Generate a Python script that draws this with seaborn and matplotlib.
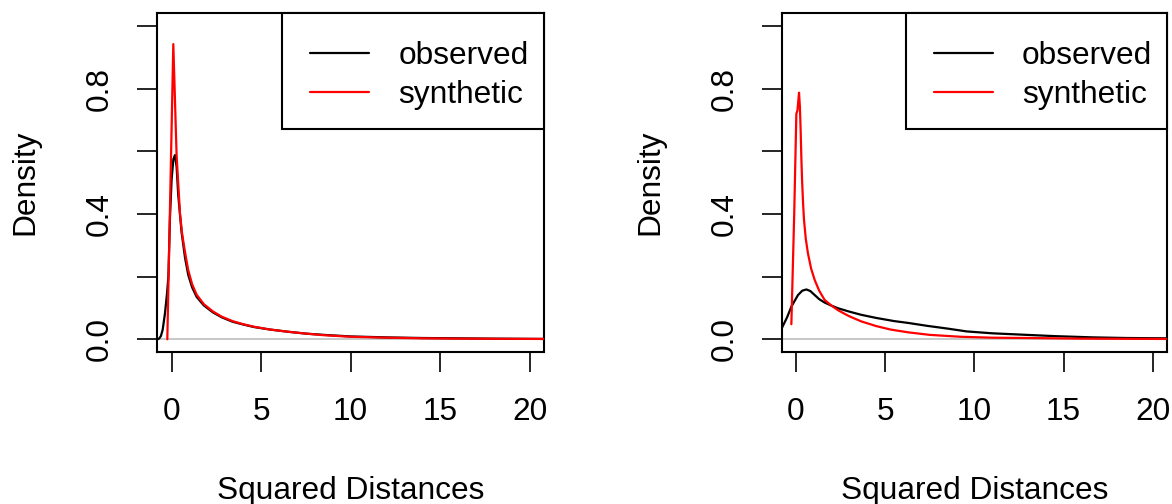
import matplotlib
matplotlib.use("Agg")
import matplotlib.pyplot as plt
from matplotlib.patches import Rectangle
import seaborn as sns
import pandas as pd

# ---------------- data ----------------
# Left panel
left_obs_x = [-0.8, -0.7, -0.6, -0.5, -0.37, -0.25, -0.18, -0.09, 0.0, 0.1, 0.19, 0.28, 0.37, 0.56, 0.75,
              0.93, 1.15, 1.4, 1.8, 2.3, 2.8, 3.4, 4.0, 4.6, 5.5, 6.5, 7.5, 8.5, 10.0,
              12.0, 14.0, 16.0, 18.0, 20.8]
left_obs_y = [0.0, 0.002, 0.01, 0.03, 0.083, 0.15, 0.2, 0.39, 0.51, 0.575, 0.588, 0.55, 0.46, 0.34, 0.26,
              0.205, 0.165, 0.135, 0.108, 0.086, 0.07, 0.056, 0.047, 0.039, 0.031, 0.024, 0.018, 0.014, 0.009,
              0.006, 0.004, 0.003, 0.002, 0.001]
left_syn_x = [-0.24, 0.095, 0.28, 0.47, 0.58, 0.7, 0.82, 0.93, 1.15, 1.4, 1.8, 2.3, 2.8, 3.4, 4.0, 4.6,
              5.5, 6.5, 7.5, 8.5, 10.0, 12.0, 14.0, 16.0, 18.0, 20.8]
left_syn_y = [0.0, 0.942, 0.585, 0.40, 0.34, 0.295, 0.255, 0.22, 0.175, 0.142, 0.112, 0.089, 0.072, 0.058, 0.048, 0.040,
              0.031, 0.024, 0.018, 0.013, 0.008, 0.005, 0.003, 0.002, 0.0015, 0.001]

# Right panel
right_obs_x = [-0.8, -0.5, -0.26, 0.11, 0.35, 0.58, 0.8, 1.05, 1.3, 1.61, 2.0, 2.35, 3.0, 3.66, 4.5, 5.5, 6.3, 7.33,
               8.5, 9.57, 11.0, 12.93, 14.5, 16.65, 18.5, 20.8]
right_obs_y = [0.035, 0.07, 0.104, 0.141, 0.155, 0.159, 0.154, 0.141, 0.128, 0.117, 0.107, 0.099, 0.088, 0.078, 0.068, 0.058, 0.052, 0.043,
               0.034, 0.025, 0.019, 0.014, 0.010, 0.006, 0.004, 0.003]
right_syn_x = [-0.26, -0.1, 0.02, 0.08, 0.17, 0.22, 0.26, 0.30, 0.34, 0.40, 0.45, 0.55, 0.67, 0.85, 1.05, 1.3,
               1.61, 2.0, 2.35, 2.7, 3.0, 3.66, 4.5, 5.3, 6.3, 7.5, 9.2, 11.0, 13.0, 16.0, 18.0, 20.8]
right_syn_y = [0.048, 0.40, 0.72, 0.73, 0.787, 0.74, 0.668, 0.58, 0.508, 0.43, 0.38, 0.32, 0.274, 0.225, 0.189, 0.155,
               0.125, 0.107, 0.093, 0.082, 0.073, 0.057, 0.042, 0.031, 0.022, 0.014, 0.008, 0.005, 0.004, 0.002, 0.0015, 0.001]

series_labels = ["observed", "synthetic"]
series_colors = ["black", "red"]
x_ticks = [0, 5, 10, 15, 20]
y_ticks = [0.0, 0.2, 0.4, 0.6, 0.8, 1.0]
y_tick_labels = ["0.0", "", "0.4", "", "0.8", ""]
x_label = "Squared Distances"
y_label = "Density"

# ---------------- style ----------------
sns.set_style("white", {"text.color": "black", "axes.labelcolor": "black",
                        "xtick.color": "black", "ytick.color": "black",
                        "axes.edgecolor": "black"})
plt.rcParams['font.family'] = ['Liberation Sans', 'DejaVu Sans']
FS = 22.8

fig = plt.figure(figsize=(11.72, 5.04), dpi=100)
ax1 = fig.add_axes([0.1342, 0.302, 0.3300, 0.6714])
ax2 = fig.add_axes([0.6670, 0.302, 0.3288, 0.6714])

panels = [
    (ax1, left_obs_x, left_obs_y, left_syn_x, left_syn_y),
    (ax2, right_obs_x, right_obs_y, right_syn_x, right_syn_y),
]

for ax, ox, oy, sx, sy in panels:
    ax.axhline(0, color="#BEBEBE", lw=1.2, zorder=1)
    df_o = pd.DataFrame({"x": ox, "y": oy})
    df_s = pd.DataFrame({"x": sx, "y": sy})
    sns.lineplot(data=df_o, x="x", y="y", ax=ax, color=series_colors[0], lw=1.6,
                 sort=False, estimator=None, label=series_labels[0], zorder=3)
    sns.lineplot(data=df_s, x="x", y="y", ax=ax, color=series_colors[1], lw=1.6,
                 sort=False, estimator=None, label=series_labels[1], zorder=4)
    ax.set_xlim(-0.8, 20.8)
    ax.set_ylim(-0.04, 1.04)
    ax.set_xticks(x_ticks)
    ax.set_xticklabels([str(t) for t in x_ticks])
    ax.set_yticks(y_ticks)
    ax.set_yticklabels(y_tick_labels)
    ax.tick_params(axis="both", which="both", direction="out", length=14.4, width=1.2,
                   color="black", labelsize=FS, labelcolor="black", bottom=True, left=True)
    ax.tick_params(axis="x", pad=18)
    ax.tick_params(axis="y", pad=16, labelrotation=90)
    for lab in ax.get_yticklabels():
        lab.set_va("center")
    for sp in ax.spines.values():
        sp.set_visible(True)
        sp.set_color("black")
        sp.set_linewidth(1.5)
    ax.set_xlabel(x_label, fontsize=FS, va="center", color="black")
    ax.set_ylabel(y_label, fontsize=FS, va="center", color="black")
    ax.xaxis.set_label_coords(0.5, -0.41)
    ax.yaxis.set_label_coords(-0.34, 0.5)

    # legend frame (R style box in the top-right corner)
    frame = Rectangle((0.3225, 0.658), 1.0 - 0.3225, 1.0 - 0.658, transform=ax.transAxes,
                      facecolor="white", edgecolor="black", lw=1.5, zorder=5, clip_on=False)
    ax.add_patch(frame)
    leg = ax.legend(loc="upper left", bbox_to_anchor=(0.3953, 0.918), fontsize=FS, frameon=False,
                    borderaxespad=0, borderpad=0, handlelength=1.86,
                    handletextpad=0.92, labelspacing=0.27)
    leg.set_zorder(6)
    for t in leg.get_texts():
        t.set_color("black")

fig.savefig("out.png", dpi=100)
